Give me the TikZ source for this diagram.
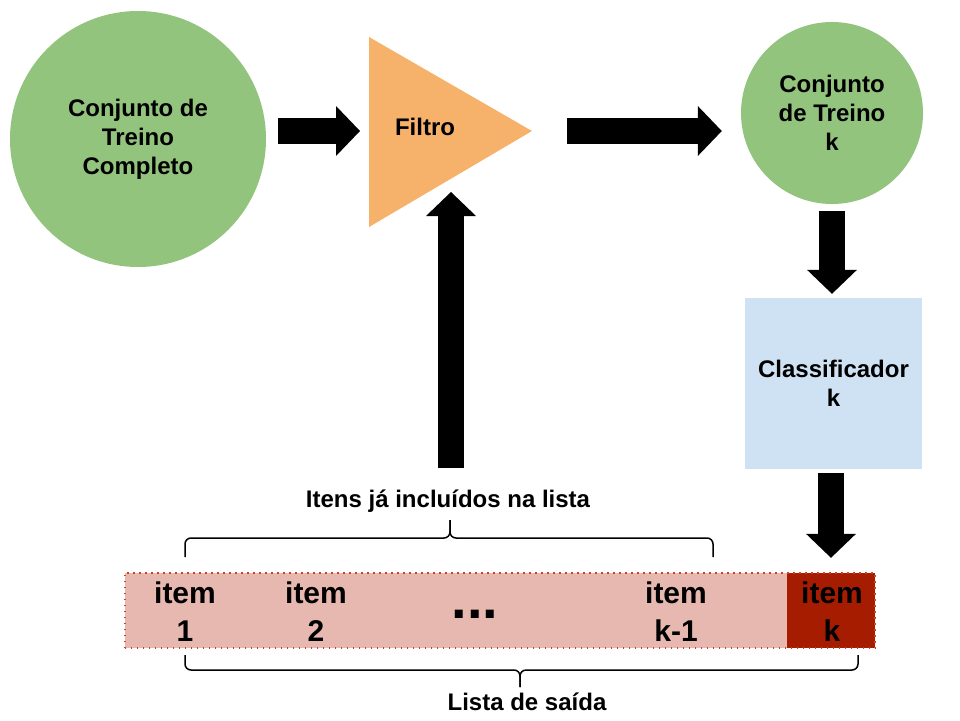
\documentclass[tikz,border=0pt]{standalone}
\usepackage{fontspec}
\setmainfont{Liberation Sans}
\usetikzlibrary{arrows.meta, calc}

\definecolor{verde}{HTML}{93C47D}
\definecolor{laranja}{HTML}{F6B26B}
\definecolor{azul}{HTML}{CFE2F3}
\definecolor{rosa}{HTML}{E6B8AF}
\definecolor{vermelho}{HTML}{A61C00}
\definecolor{pontos}{HTML}{CC4125}

\begin{document}
\begin{tikzpicture}[x=1pt, y=-1pt,
    every node/.style={font=\bfseries\fontsize{24}{29}\selectfont, align=center},
    conj/.style={circle, fill=verde, inner sep=0pt},
    blk/.style={line width=26pt, -{Triangle[length=24pt, width=50pt, line width=0pt]}},
    chave/.style={line width=1.5pt, rounded corners=6pt},
    itemtxt/.style={font=\bfseries\fontsize{30}{38}\selectfont, inner sep=0pt}]
    \useasboundingbox (0,0) rectangle (960,720);

    % conjuntos e filtro
    \node[conj, minimum size=256pt] (full) at (138,139) {Conjunto de\\Treino\\Completo};
    \node[conj, minimum size=182pt] (setk) at (832,113) {Conjunto\\de Treino\\k};
    \coordinate (ft) at (369,37);
    \coordinate (fb) at (369,227);
    \coordinate (fp) at (532,131);
    \fill[laranja] (ft) -- (fp) -- (fb) -- cycle;
    \node (filtro) at (425,127) {Filtro};
    \coordinate (fmid) at ($(fb)!0.5!(fp)$);
    \node[fill=azul, minimum width=177pt, minimum height=171pt] (classif) at (833.5,383.5) {Classificador\\k};

    % lista de saida
    \node[fill=rosa, minimum width=750pt, minimum height=75pt, inner sep=0pt] (lista) at (500,610.5) {};
    \node[fill=vermelho, minimum width=88pt, minimum height=75pt, inner sep=0pt, anchor=east] (celk) at (lista.east) {};
    \draw[pontos, line width=1.5pt, dash pattern=on 1.5pt off 4.5pt] (lista.south west) rectangle (lista.north east);
    \node[itemtxt] (i1) at (185,612) {item\\1};
    \node[itemtxt] (i2) at (316,612) {item\\2};
    \node[font=\bfseries\fontsize{56}{56}\selectfont, anchor=base] (dots) at (475,618) {...};
    \node[itemtxt] (ik1) at (676,612) {item\\k-1};
    \node[itemtxt] (ik) at (832,612) {item\\k};

    \node[anchor=base] (itens) at (448,507) {Itens já incluídos na lista};
    \node[anchor=base] (saida) at (527,710) {Lista de saída};

    % setas
    \draw[blk, shorten <=12pt, shorten >=9pt] (full.east |- fp) -- (ft |- fp);
    \draw[blk, shorten <=35pt, shorten >=19pt] (fp) -- (setk.west |- fp);
    \draw[blk, shorten <=7pt, shorten >=4pt] (setk.south) -- (setk.south |- classif.north);
    \draw[blk, shorten <=4pt, shorten >=15pt] (celk |- classif.south) -- (celk.north);
    \coordinate (pe) at (451,468);
    \draw[blk, shorten >=13pt] (pe) -- (pe |- fmid);

    % chaves
    \draw[chave] (185,557) |- (450,538) -- (450,520);
    \draw[chave] (713,557) |- (450,538) -- (450,520);
    \draw[chave] (185,655) |- (520,670) -- (520,687);
    \draw[chave] (858,655) |- (520,670) -- (520,687);
\end{tikzpicture}
\end{document}
